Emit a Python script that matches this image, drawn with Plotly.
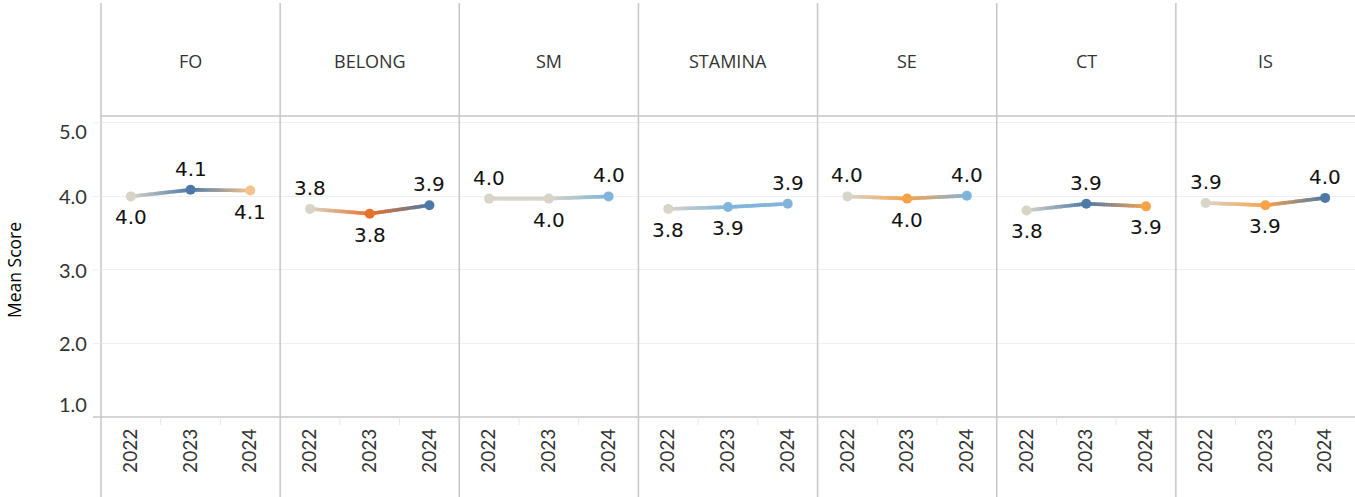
import numpy as np
import plotly.graph_objects as go
from plotly.subplots import make_subplots

# Survey scale means by construct and year
constructs = ["FO", "BELONG", "SM", "STAMINA", "SE", "CT", "IS"]
years = ["2022", "2023", "2024"]
fo = [4.00, 4.09, 4.08]
belong = [3.83, 3.765, 3.88]
sm = [3.97, 3.97, 4.00]
stamina = [3.83, 3.855, 3.90]
se = [4.00, 3.97, 4.01]
ct = [3.81, 3.90, 3.865]
is_ = [3.91, 3.88, 3.98]
series = [fo, belong, sm, stamina, se, ct, is_]

y_ticks = [5.0, 4.0, 3.0, 2.0, 1.0]
Y_RANGE = [1.0, 5.08]

BEIGE = "#d8d4c8"
BLUE_DARK = "#4e79a7"
BLUE_LIGHT = "#80b4da"
ORANGE_LIGHT = "#f5c48e"
ORANGE = "#f8a24c"
ORANGE_DARK = "#e8732b"

TICK_FONT = "Lato, Roboto, sans-serif"
HEAD_FONT = "Open Sans, sans-serif"
LABEL_FONT = "DejaVu Sans, sans-serif"


def change_color(delta):
    """Colour a point by its year-over-year change."""
    if delta is None or abs(delta) < 0.005:
        return BEIGE
    if delta > 0:
        return BLUE_DARK if delta >= 0.06 else BLUE_LIGHT
    if delta <= -0.05:
        return ORANGE_DARK
    if delta <= -0.015:
        return ORANGE
    return ORANGE_LIGHT


def hex_rgb(h):
    h = h.lstrip("#")
    return np.array([int(h[i:i + 2], 16) for i in (0, 2, 4)], dtype=float)


def mix(c1, c2, t):
    c = hex_rgb(c1) * (1 - t) + hex_rgb(c2) * t
    return "rgb(%d,%d,%d)" % tuple(np.round(c).astype(int))


n = len(constructs)
fig = make_subplots(rows=1, cols=n, shared_yaxes=True, horizontal_spacing=0)

annotations = []
xs = np.arange(len(years))
STEPS = 24
OVERLAP = 0.6 / STEPS

for k, (name, vals) in enumerate(zip(constructs, series)):
    col = k + 1
    deltas = [None] + [vals[i] - vals[i - 1] for i in range(1, len(vals))]
    colors = [change_color(d) for d in deltas]

    # gradient line: short overlapping pieces blending the end-point colours
    for i in range(len(vals) - 1):
        for j in range(STEPS):
            t0 = j / STEPS
            t1 = min((j + 1) / STEPS + OVERLAP, 1.0)
            tm = (j + 0.5) / STEPS
            fig.add_trace(
                go.Scatter(
                    x=[xs[i] + (xs[i + 1] - xs[i]) * t0, xs[i] + (xs[i + 1] - xs[i]) * t1],
                    y=[vals[i] + (vals[i + 1] - vals[i]) * t0, vals[i] + (vals[i + 1] - vals[i]) * t1],
                    mode="lines",
                    line=dict(color=mix(colors[i], colors[i + 1], tm), width=3.6),
                    hoverinfo="skip", showlegend=False,
                ),
                row=1, col=col,
            )

    fig.add_trace(
        go.Scatter(
            x=xs, y=vals, mode="markers",
            marker=dict(color=colors, size=10, line=dict(width=0)),
            showlegend=False, hovertemplate="%{y:.2f}<extra></extra>",
        ),
        row=1, col=col,
    )

    # value labels: above local highs, below otherwise
    xref = "x" if col == 1 else "x%d" % col
    for i, v in enumerate(vals):
        nb = [vals[j] for j in (i - 1, i + 1) if 0 <= j < len(vals)]
        above = v >= max(nb)
        annotations.append(dict(
            x=xs[i], y=v, xref=xref, yref="y",
            xanchor="center", yanchor="middle",
            text="%.1f" % v, showarrow=False,
            yshift=21 if above else -21,
            font=dict(family=LABEL_FONT, size=20, color="#111111"),
        ))

    fig.update_xaxes(
        range=[-0.5, 2.5], tickvals=list(xs), ticktext=years,
        tickangle=-90, showgrid=False, zeroline=False, showline=False,
        ticks="", ticklabelstandoff=7,
        tickfont=dict(family=TICK_FONT, size=19, color="#333333"),
        fixedrange=True, row=1, col=col,
    )

fig.update_yaxes(
    range=Y_RANGE, tickvals=y_ticks, showticklabels=False,
    showgrid=True, gridcolor="#efefef", gridwidth=1,
    zeroline=False, showline=False, ticks="",
)

# panel geometry in pixels
L, R, T, B, W, H = 101, 0, 117, 80, 1355, 497
pw = W - L - R
ph = H - T - B


def px_x(p):
    return (p - L) / pw


def px_y(p):
    return (H - B - p) / ph


for k, name in enumerate(constructs):
    annotations.append(dict(
        x=(k + 0.5) / n, y=px_y(61), xref="paper", yref="paper",
        xanchor="center", yanchor="middle",
        text=name, showarrow=False,
        font=dict(family=HEAD_FONT, size=18, color="#333333"),
    ))

# y axis labels, kept inside the panel band at the ends
for v in y_ticks:
    shift = -8 if v == max(y_ticks) else (13 if v == min(y_ticks) else 0)
    annotations.append(dict(
        x=px_x(89), y=v, xref="paper", yref="y",
        text="%.1f" % v, showarrow=False, xanchor="right", yanchor="middle",
        yshift=shift,
        font=dict(family=TICK_FONT, size=20, color="#333333"),
    ))

annotations.append(dict(
    x=px_x(14), y=px_y(270), xref="paper", yref="paper",
    xanchor="center", yanchor="middle",
    text="Mean Score", showarrow=False, textangle=-90,
    font=dict(family=HEAD_FONT, size=17.5, color="#000000"),
))

shapes = []
sep = dict(color="#c6c6c6", width=1.5)
for k in range(n):
    xk = k / n
    shapes.append(dict(type="line", xref="paper", yref="paper",
                       x0=xk, x1=xk, y0=px_y(H), y1=px_y(3), line=sep))
shapes.append(dict(type="line", xref="paper", yref="paper",
                   x0=0, x1=1, y0=px_y(116), y1=px_y(116), line=sep))
shapes.append(dict(type="line", xref="paper", yref="paper",
                   x0=px_x(93), x1=1, y0=0, y1=0, line=sep))
# gridline stubs to the left of the first panel
for v in y_ticks[:-1]:
    shapes.append(dict(type="line", xref="paper", yref="y",
                       x0=px_x(93), x1=0, y0=v, y1=v,
                       line=dict(color="#efefef", width=1)))
# faint dividers between year bands on the category axis
for k in range(n):
    for b in (1, 2):
        xb = (k + b / 3) / n
        shapes.append(dict(type="line", xref="paper", yref="paper",
                           x0=xb, x1=xb, y0=0, y1=px_y(425),
                           line=dict(color="#e6e6e6", width=1)))

fig.update_layout(
    width=W, height=H,
    margin=dict(l=L, r=R, t=T, b=B),
    paper_bgcolor="white", plot_bgcolor="white",
    annotations=annotations, shapes=shapes,
    showlegend=False,
)

fig.write_html("out.html", config={"displayModeBar": False})
